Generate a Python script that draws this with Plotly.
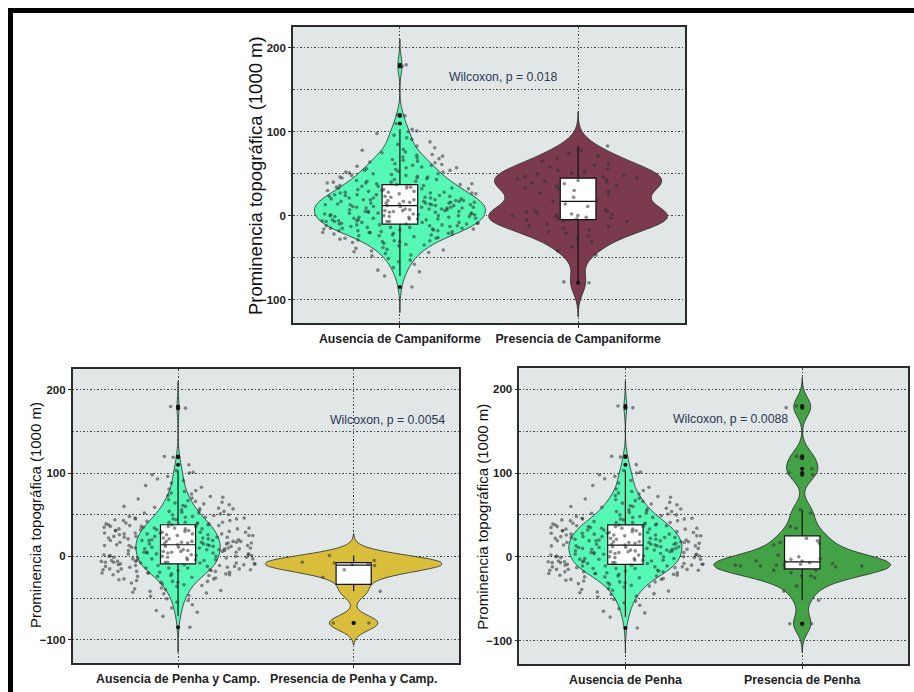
import numpy as np
import plotly.graph_objects as go

# ---------------- data (read/estimated from the picture) ----------------
cat_top = ["Ausencia de Campaniforme", "Presencia de Campaniforme"]
cat_bl = ["Ausencia de Penha y Camp.", "Presencia de Penha y Camp."]
cat_br = ["Ausencia de Penha", "Presencia de Penha"]

ausencia = [
    -85, -72, -67, -65, -62,
    -58, -55, -53, -51,
    -48, -47, -45, -44, -43, -42, -41, -40,
    -39, -38, -36, -35, -34, -33, -32, -31, -31, -30, -30,
    -29, -28, -27, -27, -26, -25, -24, -24, -23, -23, -22, -22, -21, -21, -20, -20, -20,
    -19, -19, -18, -18, -18, -17, -17, -16, -16, -16, -15, -15, -15, -14, -14, -14,
    -13, -13, -12, -12, -12, -11, -11, -11, -10, -10, -10,
    -9, -9, -9, -8, -8, -8, -7, -7, -7, -7, -6, -6, -6, -5, -5, -5, -4, -4, -4,
    -3, -3, -3, -2, -2, -2, -1, -1, -1, 0, 0, 0, 0,
    1, 1, 1, 2, 2, 2, 3, 3, 3, 4, 4, 4, 5, 5, 5, 5, 6, 6, 6, 7, 7, 7, 8, 8, 8,
    9, 9, 9, 10, 10, 10, 10,
    11, 11, 12, 12, 12, 13, 13, 13, 14, 14, 15, 15, 15, 16, 16, 16, 17, 17, 17,
    18, 18, 18, 19, 19, 19, 20, 20, 11, 13, 15, 17, 19, 14,
    21, 21, 21, 22, 22, 23, 23, 23, 24, 24, 25, 25, 25, 26, 26, 27, 27, 27, 28, 28,
    28, 29, 29, 30, 30,
    31, 31, 32, 32, 33, 33, 33, 34, 34, 35, 35, 36, 36, 36, 37, 37, 38, 38, 39, 39, 40, 40,
    41, 41, 42, 43, 43, 44, 45, 45, 46, 46, 47, 48, 48, 49, 50, 50, 51, 52,
    52, 53, 54, 54, 55, 56, 57, 57, 58, 59, 60, 60, 61,
    62, 63, 64, 65, 66, 67, 68, 69, 70,
    71, 72, 73, 75, 76, 78, 79,
    81, 83, 85, 88,
    91, 93, 96, 98,
    100, 101, 103, 110, 119, 120,
    178, 180,
]
# extra sites that fall in the "absence" group of the lower panels
ausencia_extra = [22, 26, 31, 34, 38, 41, 44, 47, 29, 36, 18, 24, 33, 39, 45, 27]

presencia_campaniforme = [
    -80, -79,
    -47, -42, -37, -31,
    -28, -24, -21,
    -19, -17, -15, -13, -12, -10,
    -7, -6, -5, -4, -4, -3, -2, -1, 0, 0, 1, 2, 2, 3, 4, 5, 6, 7,
    11, 14, 17, 19,
    22, 25, 27, 29,
    30, 32, 33, 35, 36, 38, 39, 40, 41, 42, 43, 44, 45, 46, 47, 48, 50, 51, 53,
    54, 56, 58,
    60, 62, 65, 68,
    71, 74, 78, 83,
]

presencia_penha_camp = [1, -5, -7, -8, -9, -10, -11, -16, -25, -42, -80, -80]

presencia_penha = [
    180, 178, 120, 118, 105, 100, 98, 56, 52, 36, 34, 22, 19, 17, 16, 14, 2, 0, -2,
    -3, -5, -5, -6, -7, -8, -9, -10, -10, -10, -11, -11, -11, -12, -14, -16, -16,
    -19, -23, -23, -25, -35, -41, -52, -80, -80,
]

wilcoxon_labels = ["Wilcoxon, p = 0.018", "Wilcoxon, p = 0.0054", "Wilcoxon, p = 0.0088"]
y_title = "Prominencia topográfica (1000 m)"

# ---------------- style ----------------
MINT = "#55F8B5"
MAROON = "#7B3A4D"
GOLD = "#D8BE3B"
GREEN = "#43A146"
PANEL_BG = "#E1E7E6"
GRID = "#444444"
GRID_DASH = "1.5px,2px"
FRAME = "#2b2b2b"
PT_COLOR = "rgba(45,45,45,0.55)"


def nrd0(v):
    v = np.asarray(v, dtype=float)
    sd = v.std(ddof=1)
    iqr = np.subtract(*np.percentile(v, [75, 25]))
    lo = min(sd, iqr / 1.34) if iqr > 0 else sd
    return 0.9 * lo * len(v) ** (-0.2)


fig = go.Figure()


def add_group(values, cat, color, vwidth, xa, ya):
    bw = nrd0(values)
    cats = [cat] * len(values)
    fig.add_trace(go.Violin(
        x=cats, y=values, xaxis=xa, yaxis=ya,
        fillcolor=color, line=dict(color="#2a2a2a", width=0.8), opacity=1,
        points=False, box_visible=False, meanline_visible=False,
        bandwidth=bw, spanmode="manual",
        span=[min(values) - 3 * bw, max(values) + 3 * bw],
        scalemode="width", width=vwidth, showlegend=False, hoverinfo="skip",
    ))
    fig.add_trace(go.Box(
        x=cats, y=values, xaxis=xa, yaxis=ya,
        fillcolor="white", line=dict(color="#111111", width=1.2),
        whiskerwidth=0, width=0.2, boxpoints="outliers",
        marker=dict(color="#111111", size=4, outliercolor="#111111"),
        showlegend=False, hoverinfo="skip",
    ))
    fig.add_trace(go.Box(
        x=cats, y=values, xaxis=xa, yaxis=ya,
        fillcolor="rgba(0,0,0,0)", line=dict(color="rgba(0,0,0,0)", width=0),
        whiskerwidth=0, width=0.88, boxpoints="all", jitter=1, pointpos=0,
        marker=dict(color=PT_COLOR, size=3.6),
        showlegend=False, hoverinfo="skip",
    ))


ausencia_low = ausencia + ausencia_extra

add_group(ausencia, cat_top[0], MINT, 0.96, "x", "y")
add_group(presencia_campaniforme, cat_top[1], MAROON, 1.0, "x", "y")
add_group(ausencia_low, cat_bl[0], MINT, 0.48, "x2", "y2")
add_group(presencia_penha_camp, cat_bl[1], GOLD, 1.0, "x2", "y2")
add_group(ausencia_low, cat_br[0], MINT, 0.64, "x3", "y3")
add_group(presencia_penha, cat_br[1], GREEN, 1.0, "x3", "y3")

W, H = 914, 692


def xd(a, b):
    return [a / W, b / W]


def yd(top, bottom):
    return [1 - bottom / H, 1 - top / H]


def xaxis(dom, cats, anchor):
    return dict(
        domain=dom, anchor=anchor, type="category", categoryorder="array",
        categoryarray=cats, range=[-0.6, 1.6],
        showgrid=True, gridcolor=GRID, griddash=GRID_DASH, gridwidth=1,
        showline=True, mirror=True, linecolor=FRAME, linewidth=1.6,
        ticks="outside", ticklen=3, tickcolor=FRAME,
        tickfont=dict(family="Arial", size=12.3, color="#222222", weight="bold"),
        zeroline=False, fixedrange=True,
    )


def yaxis(dom, anchor):
    return dict(
        domain=dom, anchor=anchor, range=[-128, 225], tick0=0, dtick=100,
        showgrid=True, gridcolor=GRID, griddash=GRID_DASH, gridwidth=1,
        minor=dict(dtick=50, tick0=0, showgrid=True, gridcolor=GRID,
                   griddash=GRID_DASH, gridwidth=1),
        showline=True, mirror=True, linecolor=FRAME, linewidth=1.6,
        ticks="outside", ticklen=3, tickcolor=FRAME,
        tickfont=dict(family="Arial", size=11.5, color="#222222", weight="bold"),
        zeroline=False, fixedrange=True,
    )


fig.update_layout(
    width=W, height=H, margin=dict(l=0, r=0, t=0, b=0),
    paper_bgcolor="white", plot_bgcolor=PANEL_BG,
    violinmode="overlay", boxmode="overlay",
    xaxis=xaxis(xd(293, 685), cat_top, "y"),
    yaxis=yaxis(yd(27, 323), "x"),
    xaxis2=xaxis(xd(72.7, 459), cat_bl, "y2"),
    yaxis2=yaxis(yd(369, 663), "x2"),
    xaxis3=xaxis(xd(519.3, 908.3), cat_br, "y3"),
    yaxis3=yaxis(yd(368.3, 664), "x3"),
    showlegend=False,
)

ann_font = dict(family="Arial", size=12.3, color="#2A3A55")
fig.add_annotation(x=0.583, y=165, xref="x", yref="y", text=wilcoxon_labels[0],
                   showarrow=False, font=ann_font)
fig.add_annotation(x=1.193, y=164, xref="x2", yref="y2", text=wilcoxon_labels[1],
                   showarrow=False, font=ann_font)
fig.add_annotation(x=0.593, y=165, xref="x3", yref="y3", text=wilcoxon_labels[2],
                   showarrow=False, font=ann_font)

title_specs = [(255, 176, 18.5), (35, 515, 15), (483, 516.7, 15)]
for px, py, fs in title_specs:
    fig.add_annotation(x=px / W, y=1 - py / H, xref="paper", yref="paper",
                       text=y_title, textangle=-90, showarrow=False,
                       xanchor="center", yanchor="middle",
                       font=dict(family="Arial", size=fs, color="#111111"))

# black frame (top and left edges of the figure)
fig.add_shape(type="rect", xref="paper", yref="paper", x0=8 / W, x1=1,
              y0=1 - 13 / H, y1=1 - 8 / H, fillcolor="black", line_width=0)
fig.add_shape(type="rect", xref="paper", yref="paper", x0=8 / W, x1=13 / W,
              y0=0, y1=1 - 8 / H, fillcolor="black", line_width=0)

fig.write_html("out.html")
